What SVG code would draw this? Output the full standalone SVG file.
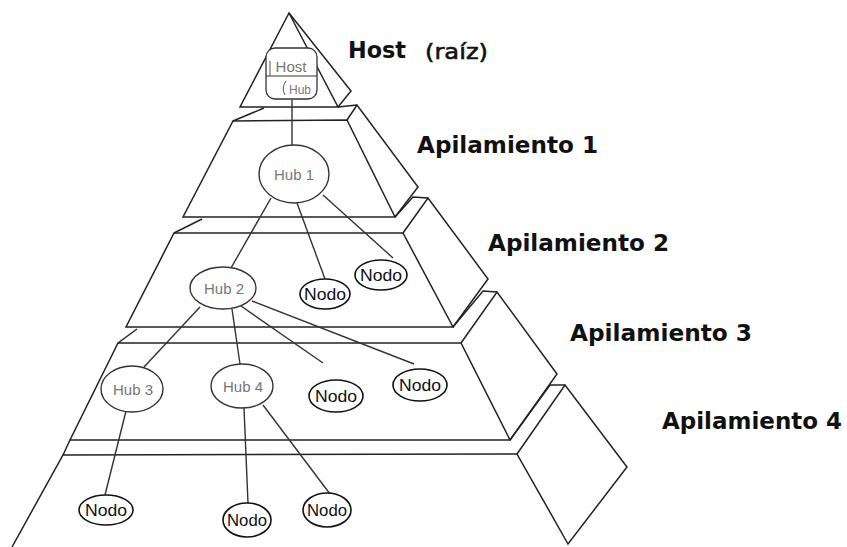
<svg xmlns="http://www.w3.org/2000/svg" width="847" height="547" viewBox="0 0 847 547">
<style>
.p{fill:none;stroke:#222;stroke-width:1.5;stroke-linejoin:miter}
.c{stroke:#333;stroke-width:1.4;fill:none}
.hub{fill:#fff;stroke:#333;stroke-width:1.4}
.hubt{font-family:"Liberation Sans",Arial,sans-serif;font-size:15px;fill:#777;text-anchor:middle}
.nodo{fill:#fff;stroke:#111;stroke-width:1.6}
.nodot{font-family:"Liberation Sans",Arial,sans-serif;font-size:17px;fill:#111;text-anchor:middle}
.lab{font-family:"DejaVu Sans","Liberation Sans",sans-serif;font-size:23px;font-weight:bold;fill:#111}
</style>
<rect width="847" height="547" fill="#fff"/>
<g id="pyramid">
  <polygon class="p" points="289,13 240,107 338,107"/>
  <polyline class="p" points="289,13 351,91 338,107"/>
  <line class="p" x1="338" y1="107" x2="357" y2="105"/>
  <line class="p" x1="233" y1="121" x2="264" y2="108"/>
  <polygon class="p" points="233,121 347,120 395,217 183,217"/>
  <polyline class="p" points="347,120 357,105 418,187 395,217"/>
  <line class="p" x1="174" y1="233" x2="202" y2="219"/>
  <polygon class="p" points="174,233 403,233 453,327 126,327"/>
  <polyline class="p" points="395,217 413,197 428,198"/>
  <polyline class="p" points="403,233 428,198 488,279 453,327"/>
  <line class="p" x1="118" y1="343" x2="137" y2="329"/>
  <polygon class="p" points="118,343 461,343 510,440 70,440"/>
  <polyline class="p" points="453,327 483,291 497,292"/>
  <polyline class="p" points="461,343 497,292 557,374 510,440"/>
  <line class="p" x1="63" y1="455" x2="70" y2="440"/>
  <polyline class="p" points="12,547 63,455 517,454"/>
  <polyline class="p" points="510,440 550,385 565,385"/>
  <polygon class="p" points="517,454 565,385 627,467 568,544"/>
</g>
<g id="connectors">
  <line class="c" x1="292" y1="100" x2="292" y2="145"/>
  <line class="c" x1="271" y1="198" x2="231" y2="268"/>
  <line class="c" x1="297" y1="203" x2="325" y2="279"/>
  <line class="c" x1="323" y1="195" x2="393" y2="258"/>
  <line class="c" x1="200" y1="307" x2="144" y2="367"/>
  <line class="c" x1="232" y1="309" x2="240" y2="364"/>
  <line class="c" x1="241" y1="306" x2="323" y2="363"/>
  <line class="c" x1="252" y1="301" x2="414" y2="364"/>
  <line class="c" x1="126" y1="411" x2="105" y2="495"/>
  <line class="c" x1="244" y1="408" x2="248" y2="503"/>
  <line class="c" x1="263" y1="405" x2="330" y2="494"/>
</g>
<g id="host">
  <rect x="266" y="48" width="51" height="51" rx="9" fill="#fff" stroke="#333" stroke-width="1.3"/>
  <line x1="266" y1="76" x2="317" y2="76" stroke="#333" stroke-width="1.2"/>
  <line x1="270" y1="61" x2="270" y2="76" stroke="#555" stroke-width="1"/>
  <path d="M286,81 Q281,88 285,95" fill="none" stroke="#555" stroke-width="1"/>
  <text x="291" y="72" font-family="Liberation Sans,Arial,sans-serif" font-size="15" fill="#777" text-anchor="middle">Host</text>
  <text x="300" y="94" font-family="Liberation Sans,Arial,sans-serif" font-size="12" fill="#777" text-anchor="middle">Hub</text>
</g>
<g id="hub1"><ellipse class="hub" cx="294" cy="174" rx="35" ry="29"/><text class="hubt" x="294" y="180">Hub 1</text></g>
<g id="hub2"><ellipse class="hub" cx="223" cy="288" rx="33" ry="21"/><text class="hubt" x="224" y="294">Hub 2</text></g>
<g id="hub3"><ellipse class="hub" cx="132" cy="389" rx="31" ry="23"/><text class="hubt" x="133" y="395">Hub 3</text></g>
<g id="hub4"><ellipse class="hub" cx="242" cy="386" rx="31" ry="22"/><text class="hubt" x="243" y="392">Hub 4</text></g>
<g id="nodo1"><ellipse class="nodo" cx="325" cy="294" rx="25" ry="15"/><text class="nodot" x="325" y="300" textLength="42" lengthAdjust="spacingAndGlyphs">Nodo</text></g>
<g id="nodo2"><ellipse class="nodo" cx="381" cy="275" rx="26" ry="15"/><text class="nodot" x="381" y="281" textLength="42" lengthAdjust="spacingAndGlyphs">Nodo</text></g>
<g id="nodo3"><ellipse class="nodo" cx="336" cy="396" rx="27" ry="16"/><text class="nodot" x="336" y="402" textLength="42" lengthAdjust="spacingAndGlyphs">Nodo</text></g>
<g id="nodo4"><ellipse class="nodo" cx="420" cy="385" rx="27" ry="16"/><text class="nodot" x="420" y="391" textLength="42" lengthAdjust="spacingAndGlyphs">Nodo</text></g>
<g id="nodo5"><ellipse class="nodo" cx="106" cy="510" rx="27" ry="15"/><text class="nodot" x="106" y="516" textLength="42" lengthAdjust="spacingAndGlyphs">Nodo</text></g>
<g id="nodo6"><ellipse class="nodo" cx="247" cy="520" rx="24" ry="17"/><text class="nodot" x="247" y="526" textLength="40" lengthAdjust="spacingAndGlyphs">Nodo</text></g>
<g id="nodo7"><ellipse class="nodo" cx="327" cy="510" rx="24" ry="17"/><text class="nodot" x="327" y="516" textLength="40" lengthAdjust="spacingAndGlyphs">Nodo</text></g>
<g id="labels">
  <text class="lab" x="348" y="58" textLength="58" lengthAdjust="spacingAndGlyphs">Host</text>
  <text x="425" y="59" font-family="DejaVu Sans,Liberation Sans,sans-serif" font-size="22" fill="#111" stroke="#111" stroke-width="0.6" textLength="63" lengthAdjust="spacingAndGlyphs">(raíz)</text>
  <text class="lab" x="417" y="153" textLength="181" lengthAdjust="spacingAndGlyphs">Apilamiento 1</text>
  <text class="lab" x="488" y="251" textLength="181" lengthAdjust="spacingAndGlyphs">Apilamiento 2</text>
  <text class="lab" x="570" y="341" textLength="182" lengthAdjust="spacingAndGlyphs">Apilamiento 3</text>
  <text class="lab" x="662" y="429" textLength="180" lengthAdjust="spacingAndGlyphs">Apilamiento 4</text>
</g>
</svg>
